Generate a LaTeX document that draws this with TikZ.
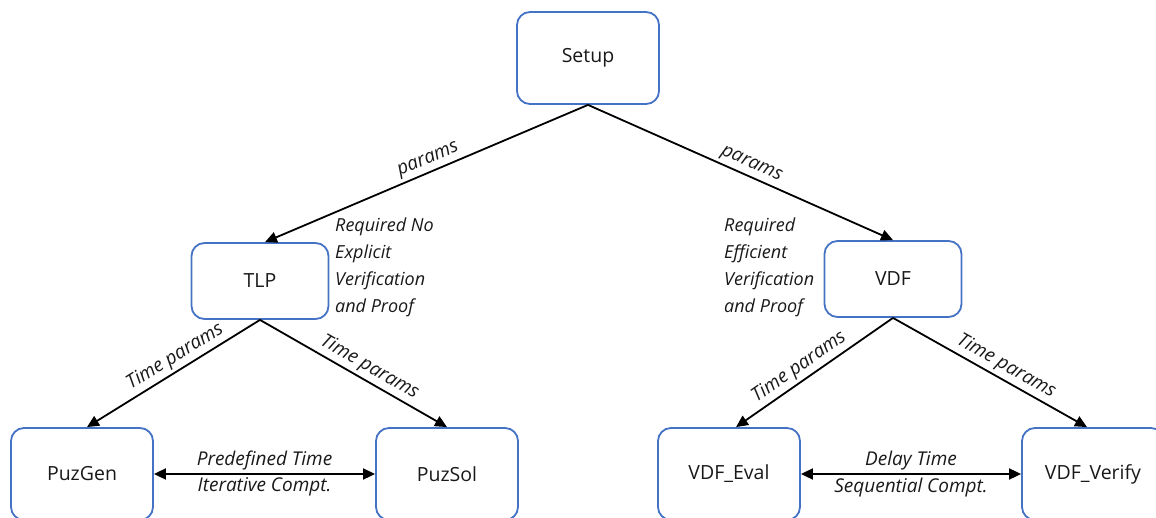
\documentclass[tikz,border=0pt]{standalone}
\usepackage{fontspec}
\setmainfont{Open Sans}
\usetikzlibrary{arrows.meta,calc}
\definecolor{boxblue}{RGB}{68,114,196}
\begin{document}
\begin{tikzpicture}[x=1pt,y=-1pt,
  box/.style={draw=boxblue,line width=1.8pt,rounded corners=13pt,fill=white,
    font=\fontsize{19.5}{22}\selectfont,text=black!90},
  bigbox/.style={box,minimum width=142pt,minimum height=92pt},
  midbox/.style={box,minimum width=137pt,minimum height=76pt},
  conn/.style={line width=1.8pt,-{Triangle[length=12pt,width=11pt]}},
  biconn/.style={line width=1.8pt,{Triangle[length=12pt,width=11pt]}-{Triangle[length=12pt,width=11pt]}},
  lbl/.style={font=\fontsize{19}{22}\selectfont\itshape,text=black!90,inner sep=3pt},
  note/.style={font=\fontsize{18}{27}\selectfont\itshape,text=black!90,align=left,anchor=north west,inner sep=0pt}]
\useasboundingbox (0,0) rectangle (1156,518);
\node[bigbox] (setup) at (588,58) {Setup};
\node[midbox] (tlp) at (260,281) {TLP};
\node[midbox] (vdf) at (893,279) {VDF};
\node[bigbox] (puzgen) at (82,474) {PuzGen};
\node[bigbox] (puzsol) at (447,474) {PuzSol};
\node[bigbox] (vdfeval) at (729,474) {VDF\_Eval};
\node[bigbox] (vdfverify) at (1093,474) {VDF\_Verify};

\draw[conn] (setup.south) -- node[lbl,sloped,above,pos=0.48] {params} ($(tlp.north)+(5,0)$);
\draw[conn] (setup.south) -- node[lbl,sloped,above,pos=0.52] {params} (vdf.north);
\draw[conn] (tlp.south) -- node[lbl,sloped,above,pos=0.45] {Time params} ($(puzgen.north)+(5,0)$);
\draw[conn] (tlp.south) -- node[lbl,sloped,above,pos=0.55] {Time params} (puzsol.north);
\draw[conn] (vdf.south) -- node[lbl,sloped,above,pos=0.55] {Time params} ($(vdfeval.north)+(7,0)$);
\draw[conn] (vdf.south) -- node[lbl,sloped,above,pos=0.55] {Time params} ($(vdfverify.north)+(-6,0)$);

\draw[biconn] (puzgen.east) -- node[lbl,above] {Predefined Time} node[lbl,below] {Iterative Compt.} (puzsol.west);
\draw[biconn] (vdfeval.east) -- node[lbl,above] {Delay Time} node[lbl,below] {Sequential Compt.} (vdfverify.west);

\node[note] (noteL) at (335,218) {Required No\\Explicit\\Verification\\and Proof};
\node[note] (noteR) at (724,218) {Required\\Efficient\\Verification\\and Proof};
\end{tikzpicture}
\end{document}
